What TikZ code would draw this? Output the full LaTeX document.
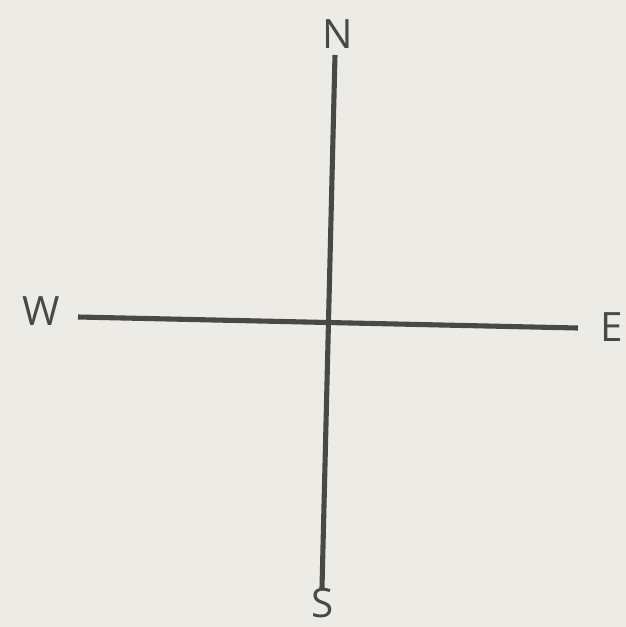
\documentclass[tikz,border=0pt]{standalone}
\usepackage{fontspec}
\setmainfont{Open Sans}
\usepackage{tikz}
\definecolor{paper}{RGB}{236,235,229}
\definecolor{ink}{RGB}{72,72,68}
\tikzset{
  compass line/.style={draw=ink, line width=2.9pt},
  compass label/.style={text=ink, inner sep=0pt, font=\fontsize{23}{27}\selectfont}
}

\begin{document}
\begin{tikzpicture}[x=0.02cm, y=-0.02cm]
    % paper background, fixes the margins
    \fill[paper] (0,0) rectangle (626,627);
    \useasboundingbox (0,0) rectangle (626,627);

    % ends of the two strokes
    \coordinate (north end) at (335,55);
    \coordinate (south end) at (322,588);
    \coordinate (west end) at (78,317);
    \coordinate (east end) at (578,328);

    % the cross
    \draw[compass line] (north end) -- (south end); % north-south
    \draw[compass line] (west end) -- (east end);   % west-east

    % the four points
    \node[compass label] (N) at (338,34) {N};
    \node[compass label] (S) at (323,603) {S};
    \node[compass label] (W) at (41,311) {W};
    \node[compass label] (E) at (612,327) {E};
\end{tikzpicture}
\end{document}
